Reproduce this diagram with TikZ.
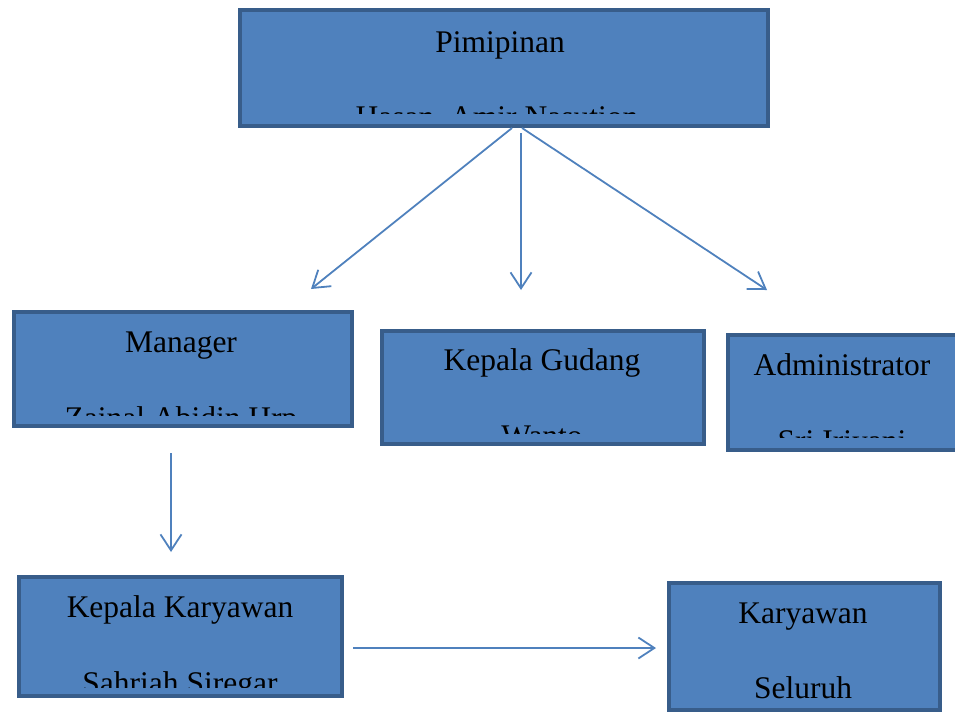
\documentclass[tikz,border=0pt]{standalone}
\usepackage{fontspec}
\setmainfont{Liberation Serif}
\usetikzlibrary{arrows.meta}
\definecolor{boxfill}{HTML}{4F81BD}
\definecolor{boxline}{HTML}{385D8A}
\definecolor{arrowc}{HTML}{4F81BD}
\tikzset{
  orgbox/.style={draw=boxline, fill=boxfill, line width=3.5pt, rectangle, inner sep=0pt, outer sep=0pt, anchor=north west},
  lbl/.style={anchor=base, inner sep=0pt, font=\fontsize{31.5}{36}\selectfont, text=black},
  conn/.style={draw=arrowc, line width=1.8pt, -{Straight Barb[length=16pt,width=21pt,line width=1.8pt]}}
}
\begin{document}
\begin{tikzpicture}[x=1pt,y=-1pt]
\useasboundingbox (0,0) rectangle (955,713);
% boxes
\node[orgbox, minimum width=528pt, minimum height=116pt] (pim) at (240,10) {};
\node[orgbox, minimum width=338pt, minimum height=114pt] (man) at (14,312) {};
\node[orgbox, minimum width=322pt, minimum height=113pt] (gud) at (382,331) {};
\node[orgbox, minimum width=234pt, minimum height=115pt] (adm) at (728,335) {};
\node[orgbox, minimum width=323pt, minimum height=119pt] (kk) at (19,577) {};
\node[orgbox, minimum width=271pt, minimum height=127pt] (kar) at (669,583) {};
% texts (clipped like the reference)
\begin{scope}
\clip (242,12) rectangle (766,113);
\node[lbl] (pimt) at (500,52) {Pimipinan};
\node[lbl] (pimn) at (497,127) {Hasan\ \ Amir Nasution};
\end{scope}
\begin{scope}
\clip (16,314) rectangle (350,415);
\node[lbl] (mant) at (181,352) {Manager};
\node[lbl] (mann) at (181,428) {Zainal Abidin Hrp};
\end{scope}
\begin{scope}
\clip (384,333) rectangle (702,433);
\node[lbl] (gudt) at (542,370) {Kepala Gudang};
\node[lbl] (gudn) at (542,446) {Wanto};
\end{scope}
\begin{scope}
\clip (730,337) rectangle (955,437);
\node[lbl] (admt) at (842,375) {Administrator};
\node[lbl] (admn) at (842,451) {Sri Iriyani};
\end{scope}
\begin{scope}
\clip (21,579) rectangle (340,687);
\node[lbl] (kkt) at (180,617) {Kepala Karyawan};
\node[lbl] (kkn) at (180,693) {Sahriah Siregar};
\end{scope}
\node[lbl] (kart) at (803,623) {Karyawan};
\node[lbl] (karn) at (803,698) {Seluruh};
% connector end points
\coordinate (p1) at (512,128);
\coordinate (p2) at (521,133);
\coordinate (p3) at (522,128);
\coordinate (q1) at (311,289);
\coordinate (q2) at (521,290);
\coordinate (q3) at (767,290);
\coordinate (m1) at (171,453);
\coordinate (m2) at (171,552);
\coordinate (k1) at (353,648);
\coordinate (k2) at (656,648);
\draw[conn] (p1) -- (q1);
\draw[conn] (p2) -- (q2);
\draw[conn] (p3) -- (q3);
\draw[conn] (m1) -- (m2);
\draw[conn] (k1) -- (k2);
\end{tikzpicture}
\end{document}
